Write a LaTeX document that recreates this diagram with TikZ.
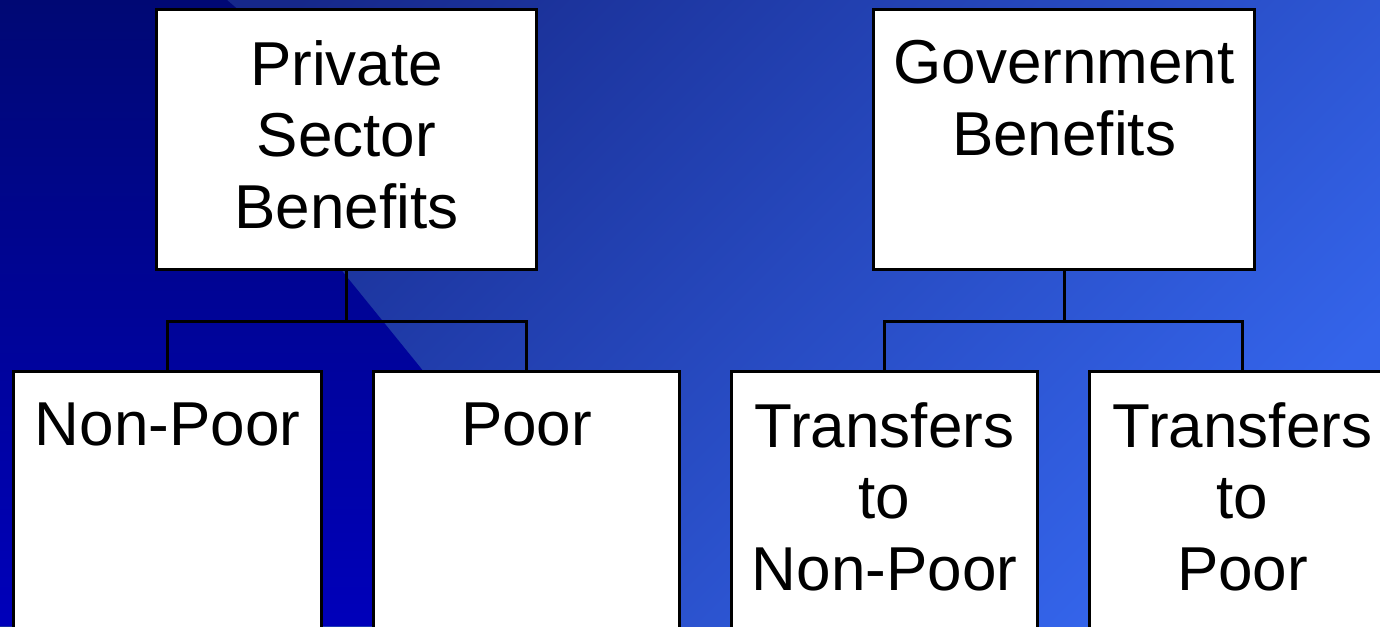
\documentclass[tikz,border=0pt]{standalone}
\usepackage{fontspec}
\setmainfont{Liberation Sans}
\definecolor{darkA}{HTML}{000874}
\definecolor{darkB}{HTML}{0000BA}
\definecolor{lightA}{HTML}{16288A}
\definecolor{lightB}{HTML}{3464EA}
\newcommand{\bigfont}{\fontsize{31}{35.75}\selectfont}
\newcommand{\cellbox}[3]{\parbox[c][#2][t]{#1}{\centering\vspace*{15.5pt}#3}}
\begin{document}
\begin{tikzpicture}[x=0.5pt,y=-0.5pt,
  box/.style={draw=black, line width=1.5pt, fill=white, inner sep=0pt, anchor=north west, font=\bigfont},
  link/.style={draw=black, line width=1.5pt}]
\useasboundingbox (0,0) rectangle (1380,626);
\clip (0,0) rectangle (1380,626);
\shade[top color=lightA, bottom color=lightB, shading angle=45] (0,0) rectangle (1380,626);
\shade[top color=darkA, bottom color=darkB] (0,0) -- (227,0) -- (250,20) -- (330,256) -- (347,277) -- (420,367) -- (470,430) -- (470,626) -- (0,626) -- cycle;

\node[box] (priv) at (155,8) {\cellbox{190pt}{130pt}{Private\\Sector\\Benefits}};
\node[box] (gov) at (872,8) {\cellbox{190.5pt}{130pt}{Government\\Benefits}};
\node[box] (np) at (12,370) {\cellbox{154pt}{150pt}{Non-Poor}};
\node[box] (poor) at (372,370) {\cellbox{153pt}{150pt}{Poor}};
\node[box] (tnp) at (730,370) {\cellbox{153pt}{150pt}{Transfers\\to\\Non-Poor}};
\node[box] (tp) at (1088,370) {\cellbox{153pt}{150pt}{Transfers\\to\\Poor}};

\draw[link] (priv.south) -- ++(0,50) coordinate (pj);
\draw[link] (np.north) |- (pj) -| (poor.north);
\draw[link] (gov.south) -- ++(0,50) coordinate (gj);
\draw[link] (tnp.north) |- (gj) -| (tp.north);
\end{tikzpicture}
\end{document}
